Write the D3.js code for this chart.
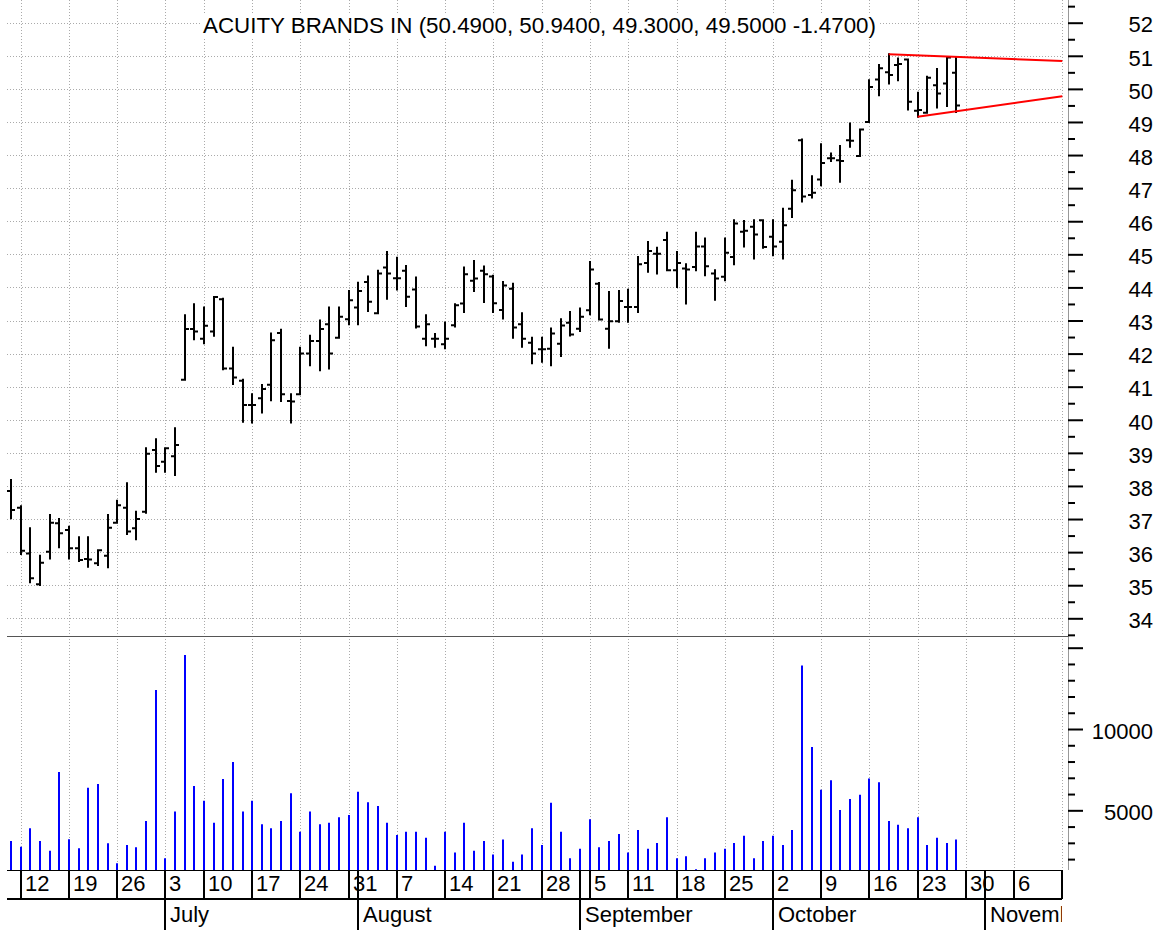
<!DOCTYPE html>
<html lang="en">
<head>
<meta charset="utf-8">
<script src="https://cdn.jsdelivr.net/npm/d3@7"></script>
<title>Acuity Brands daily bars</title>
<style>
    body { margin: 0; background: #fff; }
    svg { display: block; font-family: "Liberation Sans", Arial, sans-serif; }
</style>
</head>
<body>
<div id="chart"></div>
<script>
// trading calendar (Jun 9 - Nov 13 2006), market holidays left out
const firstDay = "2006-06-09";
const lastDay = "2006-11-13";
const holidays = ["2006-07-04", "2006-09-04"];

// one value per session, Jun 9 .. Oct 27
const open = [
    37.85,
    37.34, 35.96, 35.03, 36.01, 36.87,
    36.67, 36.12, 35.79, 35.66, 35.89,
    36.89, 37.34, 36.72, 37.22, 39.09,
    38.73, 38.90, 41.21, 42.74,
    42.45, 42.67, 43.64, 41.55, 41.18,
    40.45, 40.65, 41.06, 42.62, 40.57,
    40.77, 42.00, 42.38, 42.89, 42.48,
    43.04, 43.39, 44.16, 43.22, 44.60,
    44.28, 44.50, 43.94, 42.45, 42.45,
    42.28, 42.86, 43.51, 44.20, 44.50,
    44.33, 43.32, 43.96, 42.89, 42.33,
    42.13, 42.15, 42.30, 42.93, 42.75,
    43.31, 44.11, 42.75, 42.98,
    43.41, 43.41, 44.74, 45.02, 45.43,
    44.52, 44.57, 44.62, 45.24, 44.42,
    44.32, 44.92, 45.68, 45.83, 46.03,
    45.53, 45.38, 46.38, 48.45, 46.79,
    47.26, 47.90, 47.84, 48.45, 47.97,
    49.00, 50.28, 50.50, 50.72, 50.89,
    49.34, 49.28, 50.11, 50.16, 50.49
];
const high = [
    38.18,
    37.39, 36.72, 35.89, 37.12, 37.00,
    36.77, 36.45, 36.45, 36.06, 37.12,
    37.55, 38.08, 37.22, 39.14, 39.41,
    39.14, 39.74, 43.16, 43.49,
    43.39, 43.71, 43.66, 42.18, 41.21,
    40.77, 41.05, 42.61, 42.72, 40.77,
    42.18, 42.54, 43.00, 43.39, 43.39,
    43.89, 44.14, 44.33, 44.50, 45.07,
    44.90, 44.65, 44.30, 43.16, 42.59,
    42.94, 43.49, 44.60, 44.80, 44.63,
    44.35, 44.16, 44.11, 43.22, 42.48,
    42.48, 42.76, 43.04, 43.26, 43.36,
    44.77, 44.13, 43.86, 43.89,
    43.93, 44.92, 45.37, 45.20, 45.65,
    45.07, 44.70, 45.65, 45.48, 44.52,
    45.48, 46.03, 46.01, 46.03, 46.03,
    46.03, 46.38, 47.22, 48.47, 47.36,
    48.33, 48.05, 48.27, 48.95, 48.77,
    50.26, 50.72, 51.05, 50.92, 50.89,
    49.88, 50.37, 50.60, 50.95, 50.94
];
const low = [
    37.02,
    35.94, 35.09, 35.01, 35.81, 36.15,
    35.81, 35.73, 35.56, 35.61, 35.54,
    36.89, 36.55, 36.39, 37.19, 38.43,
    38.43, 38.33, 41.21, 42.43,
    42.31, 42.54, 41.53, 41.08, 39.94,
    39.92, 40.22, 40.59, 40.57, 39.92,
    40.77, 41.65, 41.50, 41.55, 42.48,
    42.89, 42.89, 43.29, 43.22, 43.66,
    43.94, 43.44, 42.79, 42.25, 42.21,
    42.16, 42.82, 43.26, 43.89, 43.56,
    43.26, 43.06, 42.48, 42.21, 41.71,
    41.75, 41.65, 41.93, 42.55, 42.68,
    43.19, 43.03, 42.18, 42.96,
    42.96, 43.26, 44.47, 44.42, 44.52,
    44.01, 43.51, 44.52, 44.37, 43.63,
    44.22, 44.70, 45.24, 44.87, 45.20,
    44.97, 44.87, 46.13, 46.60, 46.72,
    47.09, 47.82, 47.19, 48.25, 47.97,
    49.00, 49.81, 50.16, 50.26, 49.38,
    49.16, 49.28, 49.44, 49.48, 49.30
];
const close = [
    37.27,
    36.04, 35.21, 35.68, 36.89, 36.57,
    36.12, 35.76, 35.78, 36.06, 36.74,
    37.42, 36.62, 37.00, 38.97, 38.60,
    39.14, 39.24, 42.74, 42.67,
    42.84, 43.71, 41.55, 41.28, 40.45,
    40.45, 40.93, 42.40, 40.77, 40.55,
    42.00, 42.38, 42.74, 42.00, 43.11,
    43.61, 43.89, 43.57, 44.42, 44.42,
    44.28, 43.72, 42.82, 42.89, 42.45,
    42.45, 43.46, 44.40, 44.27, 44.40,
    43.52, 44.06, 42.79, 42.45, 42.00,
    42.13, 42.61, 42.85, 42.58, 43.11,
    44.54, 43.03, 42.98, 43.59,
    43.41, 44.70, 45.10, 45.02, 44.52,
    44.74, 44.54, 45.24, 44.64, 44.27,
    45.05, 45.93, 45.71, 45.60, 45.22,
    45.24, 45.88, 46.94, 46.75, 46.86,
    47.76, 47.90, 47.82, 48.43, 48.77,
    50.06, 50.62, 50.42, 50.75, 49.61,
    49.36, 50.34, 49.86, 50.95, 49.50
];
const volume = [
    3110,
    2760, 3890, 3110, 2520, 7360,
    3220, 2660, 6390, 6620, 2970,
    1740, 2870, 2730, 4340, 12400,
    2050, 4920, 14550, 6500,
    5590, 4240, 6930, 7970, 4920,
    5590, 4140, 3890, 4340, 6050,
    3680, 4920, 4140, 4240, 4570,
    4710, 6140, 5490, 5270, 4240,
    3480, 3680, 3680, 3320, 1590,
    3680, 2410, 4240, 2520, 3110,
    2290, 3210, 1830, 2290, 3890,
    2870, 5470, 3680, 2060, 2640,
    4450, 2730, 3110, 3540,
    2410, 3790, 2640, 2990, 4570,
    2060, 2180, 1380, 2060, 2410,
    2640, 2990, 3440, 2060, 3110,
    3440, 2870, 3790, 13910, 8890,
    6260, 6850, 5020, 5700, 5950,
    6960, 6730, 4340, 4120, 3890,
    4570, 2870, 3320, 2990, 3210
];

// axis ticks
const weekTicks = ["2006-06-12", "2006-06-19", "2006-06-26", "2006-07-03", "2006-07-10",
    "2006-07-17", "2006-07-24", "2006-07-31", "2006-08-07", "2006-08-14", "2006-08-21",
    "2006-08-28", "2006-09-05", "2006-09-11", "2006-09-18", "2006-09-25", "2006-10-02",
    "2006-10-09", "2006-10-16", "2006-10-23", "2006-10-30", "2006-11-06", "2006-11-13"];
const monthTicks = ["2006-07-03", "2006-08-01", "2006-09-01", "2006-10-02", "2006-11-01"];
const monthLabels = ["July", "August", "September", "October", "November"];
const priceTicks = d3.range(34, 53);
const priceMinor = d3.range(33.5, 53, 1);
const volTicks = [5000, 10000, 15000];
const volLabels = [5000, 10000];
const volMinor = [2000, 3000, 4000, 6000, 7000, 8000, 9000, 11000, 12000, 13000, 14000];

// drawn trend lines [date, price]
const trendTop = [["2006-10-18", 51.05], ["2006-11-13", 50.84]];
const trendBottom = [["2006-10-23", 49.16], ["2006-11-13", 49.78]];

const headline = "ACUITY BRANDS IN (50.4900, 50.9400, 49.3000, 49.5000 -1.4700)";

var width = 1166, height = 930;
var plotLeft = 7, plotRight = 1062, axisX = 1068;
var sepY = 636.7, volBase = 870, axisMid = 899;

var parse = d3.utcParse("%Y-%m-%d"), fmt = d3.utcFormat("%Y-%m-%d");
var days = d3.utcDay.range(parse(firstDay), d3.utcDay.offset(parse(lastDay), 1))
    .filter(d => d.getUTCDay() % 6 !== 0)
    .map(fmt)
    .filter(s => !holidays.includes(s));

var bars = open.map((o, i) => ({date: days[i], o: o, h: high[i], l: low[i], c: close[i], v: volume[i]}));

var x = d3.scalePoint().domain(days).range([11.06, 1062.3]);
var y = d3.scaleLinear().domain([34, 52]).range([618.3, 22.7]);
var yv = d3.scaleLinear().domain([1330, 15000]).range([volBase, 647.7]);
var px = d => Math.round(x(d));

var svg = d3.select("#chart")
    .append("svg")
        .attr("width", width)
        .attr("height", height);

svg.append("defs").append("clipPath").attr("id", "axisClip")
    .append("rect").attr("x", plotLeft).attr("y", volBase).attr("width", plotRight - plotLeft).attr("height", 60);

// grid
var grid = svg.append("g")
    .attr("stroke", "#aaa")
    .attr("stroke-dasharray", "1,2");
grid.selectAll(".vg")
    .data(weekTicks)
    .enter()
    .append("line")
        .attr("x1", d => px(d) + 0.5).attr("x2", d => px(d) + 0.5)
        .attr("y1", 0).attr("y2", volBase);
grid.selectAll(".hg")
    .data(priceTicks)
    .enter()
    .append("line")
        .attr("x1", plotLeft).attr("x2", plotRight + 1)
        .attr("y1", d => Math.round(y(d)) + 0.5).attr("y2", d => Math.round(y(d)) + 0.5);

// headline
svg.append("rect")
    .attr("x", 201).attr("y", 14).attr("width", 678).attr("height", 23)
    .attr("fill", "#fff");
svg.append("text")
    .attr("x", 203).attr("y", 33)
    .attr("font-size", 22)
    .attr("textLength", 673)
    .attr("lengthAdjust", "spacingAndGlyphs")
    .text(headline);

// frame lines
svg.append("line")
    .attr("x1", axisX + 0.5).attr("x2", axisX + 0.5).attr("y1", 0).attr("y2", volBase)
    .attr("stroke", "#999");
svg.append("line")
    .attr("x1", plotLeft).attr("x2", axisX).attr("y1", 636.5).attr("y2", 636.5)
    .attr("stroke", "#555");

// volume
svg.append("g")
    .selectAll("line")
    .data(bars)
    .enter()
    .append("line")
        .attr("x1", d => px(d.date)).attr("x2", d => px(d.date))
        .attr("y1", volBase).attr("y2", d => yv(d.v))
        .attr("stroke", "#0000ff")
        .attr("stroke-width", 2);

// price bars
svg.append("g")
    .selectAll("path")
    .data(bars)
    .enter()
    .append("path")
        .attr("d", d => {
            var cx = px(d.date);
            return "M" + cx + "," + (y(d.h) - 1) + "V" + (y(d.l) + 1)
                + "M" + (cx - 4) + "," + y(d.o) + "H" + cx
                + "M" + cx + "," + y(d.c) + "H" + (cx + 4);
        })
        .attr("fill", "none")
        .attr("stroke", "#000")
        .attr("stroke-width", 2);

// trend lines
var trend = d3.line().x(d => x(d[0])).y(d => y(d[1]));
[trendTop, trendBottom].forEach(t => {
    svg.append("path")
        .attr("d", trend(t))
        .attr("fill", "none")
        .attr("stroke", "#ff0000")
        .attr("stroke-width", 2);
});

// right axes
function rightAxis(scale, values, size, labels) {
    var g = svg.append("g")
        .attr("transform", "translate(" + axisX + ",0)")
        .call(d3.axisRight(scale).tickValues(values).tickSize(size)
            .tickFormat(d => labels && labels.includes(d) ? d : ""));
    g.select(".domain").remove();
    g.selectAll("line").attr("stroke", "#000").attr("stroke-width", 2);
    g.selectAll("text")
        .attr("x", 85)
        .attr("dy", "0.42em")
        .attr("text-anchor", "end")
        .attr("font-size", 22)
        .attr("font-family", "Liberation Sans, Arial, sans-serif")
        .attr("fill", "#000");
    return g;
}
rightAxis(y, priceTicks, 15, priceTicks);
rightAxis(y, priceMinor, 7, null);
rightAxis(yv, volTicks, 15, volLabels);
rightAxis(yv, volMinor, 7, null);

// date axis
svg.append("line")
    .attr("x1", plotLeft).attr("x2", plotRight).attr("y1", volBase + 0.5).attr("y2", volBase + 0.5)
    .attr("stroke", "#000");
svg.append("line")
    .attr("x1", plotLeft).attr("x2", plotRight).attr("y1", axisMid).attr("y2", axisMid)
    .attr("stroke", "#000").attr("stroke-width", 2);

var dateAxis = svg.append("g");
dateAxis.selectAll(".wk")
    .data(weekTicks)
    .enter()
    .append("line")
        .attr("x1", d => px(d)).attr("x2", d => px(d))
        .attr("y1", volBase).attr("y2", axisMid)
        .attr("stroke", "#000").attr("stroke-width", 2);
dateAxis.selectAll(".mo")
    .data(monthTicks)
    .enter()
    .append("line")
        .attr("x1", d => px(d)).attr("x2", d => px(d))
        .attr("y1", volBase).attr("y2", height)
        .attr("stroke", "#000").attr("stroke-width", 2);

var labels = svg.append("g")
    .attr("clip-path", "url(#axisClip)")
    .attr("font-size", 22);
labels.selectAll(".wl")
    .data(weekTicks)
    .enter()
    .append("text")
        .attr("x", d => px(d) + 4)
        .attr("y", 891)
        .text(d => +d.slice(8));
labels.selectAll(".ml")
    .data(monthTicks)
    .enter()
    .append("text")
        .attr("x", d => px(d) + 5)
        .attr("y", 922)
        .text((d, i) => monthLabels[i]);
</script>
</body>
</html>
